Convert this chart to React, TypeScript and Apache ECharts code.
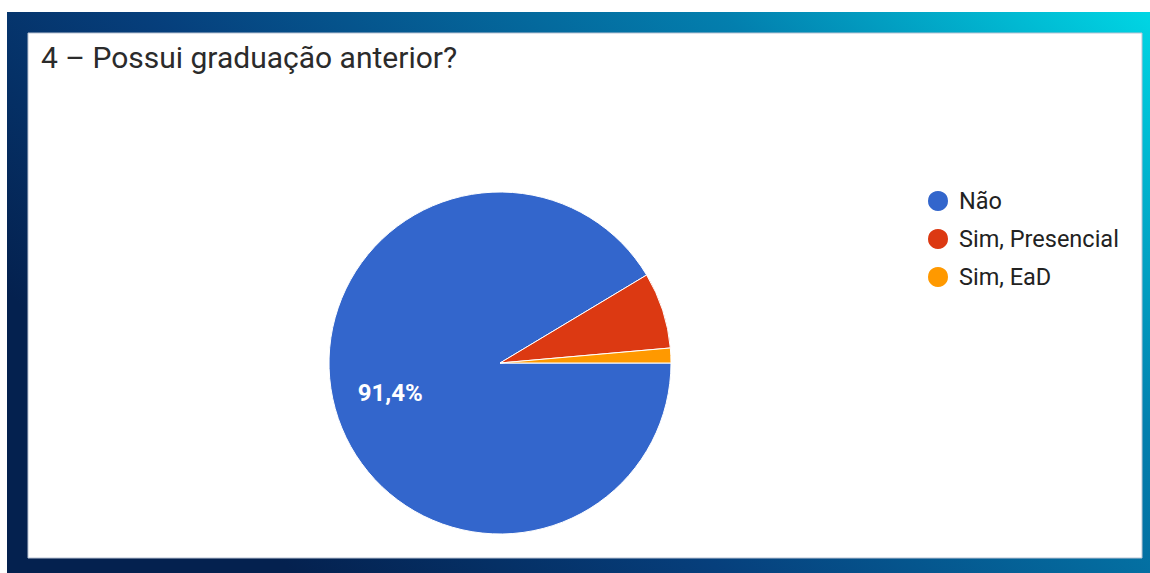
import React, { useEffect, useRef } from "react";
import * as echarts from "echarts";

const titleText = "4 – Possui graduação anterior?";
const categories = ["Não", "Sim, Presencial", "Sim, EaD"];
const percentValues = [91.4, 7.2, 1.4];
const sliceColors = ["#3366cc", "#dc3912", "#ff9900"];
const labelledSlices = ["Não"];

export default function App() {
  const ref = useRef<HTMLDivElement>(null);

  useEffect(() => {
    if (!ref.current) return;
    const chart = echarts.init(ref.current, null, { renderer: "svg" });
    const fmt = (v: number) => v.toFixed(1).replace(".", ",") + "%";
    const mainData = categories.map((name, i) => ({
      name,
      value: percentValues[i],
      itemStyle: { color: sliceColors[i] },
    }));
    const labelData = categories.map((name, i) => ({
      name,
      value: percentValues[i],
      itemStyle: { color: "rgba(0,0,0,0)", borderWidth: 0 },
      label: { show: labelledSlices.includes(name) },
    }));

    chart.setOption({
      animation: false,
      backgroundColor: "#ffffff",
      graphic: [
        {
          type: "rect",
          z: -10,
          shape: { x: 7, y: 12, width: 1143, height: 561 },
          style: {
            fill: new echarts.graphic.LinearGradient(0, 0.5, 1, 0, [
              { offset: 0, color: "#04214f" },
              { offset: 0.3, color: "#063f7c" },
              { offset: 0.7, color: "#037fae" },
              { offset: 1, color: "#00d6e4" },
            ]),
          },
        },
        {
          type: "rect",
          z: -9,
          shape: { x: 28, y: 33, width: 1114, height: 525 },
          style: { fill: "#ffffff", stroke: "#b9c3d3", lineWidth: 1 },
        },
      ],
      title: {
        text: titleText,
        left: 36,
        top: 37,
        textStyle: {
          fontFamily: "Roboto",
          fontSize: 30,
          fontWeight: "normal",
          color: "#2b2b2b",
        },
      },
      legend: {
        orient: "vertical",
        left: 921,
        top: 184,
        itemWidth: 22,
        itemHeight: 22,
        itemGap: 14,
        icon: "circle",
        data: categories,
        textStyle: {
          fontFamily: "Roboto",
          fontSize: 23.5,
          color: "#222222",
          padding: [0, 0, 0, 5],
        },
      },
      series: [
        {
          type: "pie",
          center: [500, 363],
          radius: [0, 171],
          startAngle: 0,
          clockwise: true,
          data: mainData,
          label: { show: false },
          labelLine: { show: false },
          itemStyle: { borderColor: "#ffffff", borderWidth: 1 },
          emphasis: { scale: false },
        },
        {
          type: "pie",
          center: [503, 362],
          radius: [57, 171],
          startAngle: 0,
          clockwise: true,
          silent: true,
          data: labelData,
          labelLine: { show: false },
          label: {
            position: "inside",
            formatter: (p: any) => fmt(p.value),
            color: "#ffffff",
            fontFamily: "Roboto",
            fontWeight: "bold",
            fontSize: 24,
          },
          emphasis: { disabled: true },
        },
      ],
    });
    return () => chart.dispose();
  }, []);

  return (
    <div
      ref={ref}
      style={{ position: "absolute", left: 0, top: 0, width: 1150, height: 573 }}
    />
  );
}
